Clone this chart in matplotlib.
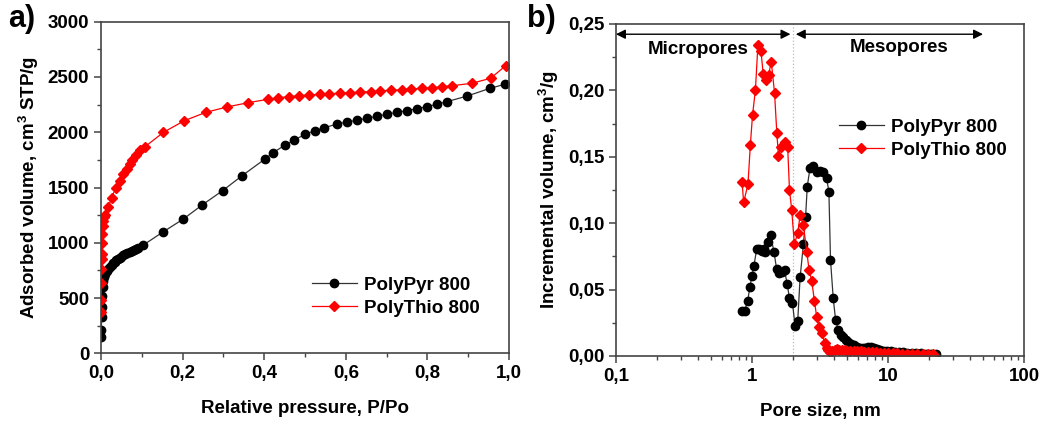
import matplotlib
matplotlib.use("Agg")
import matplotlib.pyplot as plt
from matplotlib.ticker import FuncFormatter, MultipleLocator, LogLocator, NullFormatter

plt.rcParams["font.family"] = ["Liberation Sans", "DejaVu Sans"]
plt.rcParams["font.weight"] = "bold"
plt.rcParams["mathtext.fontset"] = "custom"
plt.rcParams["mathtext.rm"] = "Liberation Sans:bold"
plt.rcParams["mathtext.bf"] = "Liberation Sans:bold"

# ---- a) N2 isotherms ----
pyr_p = [0.0005, 0.001, 0.0015, 0.002, 0.003, 0.004, 0.005, 0.007, 0.01, 0.014,
         0.018, 0.022, 0.026, 0.030, 0.034, 0.038, 0.042, 0.046, 0.050, 0.055,
         0.060, 0.065, 0.070, 0.075, 0.080, 0.085, 0.090, 0.104, 0.153, 0.202,
         0.248, 0.298, 0.346, 0.402, 0.422, 0.451, 0.474, 0.500, 0.525, 0.547,
         0.579, 0.602, 0.627, 0.651, 0.676, 0.700, 0.725, 0.749, 0.774, 0.798,
         0.823, 0.847, 0.898, 0.953, 0.990]
pyr_v = [150, 210, 330, 420, 520, 600, 650, 690, 720, 745,
         765, 785, 800, 815, 830, 845, 855, 865, 875, 885,
         895, 905, 915, 925, 935, 945, 955, 980, 1100, 1215,
         1342, 1471, 1607, 1758, 1815, 1884, 1930, 1981, 2014, 2041,
         2074, 2093, 2108, 2126, 2144, 2162, 2180, 2195, 2213, 2231,
         2253, 2276, 2328, 2397, 2434]

thio_p = [0.0003, 0.0006, 0.001, 0.0013, 0.0016, 0.002, 0.0025, 0.003, 0.004, 0.005,
          0.007, 0.0098, 0.018, 0.026, 0.036, 0.0466, 0.0547, 0.063, 0.071, 0.077,
          0.085, 0.0956, 0.108, 0.153, 0.204, 0.257, 0.308, 0.360, 0.409, 0.435,
          0.461, 0.486, 0.511, 0.537, 0.560, 0.586, 0.610, 0.636, 0.661, 0.685,
          0.710, 0.737, 0.759, 0.786, 0.811, 0.835, 0.861, 0.909, 0.955, 0.992]
thio_v = [370, 480, 640, 760, 850, 900, 1000, 1080, 1150, 1200,
          1230, 1251, 1321, 1408, 1493, 1559, 1620, 1667, 1710, 1749,
          1794, 1839, 1869, 1999, 2104, 2180, 2228, 2267, 2298, 2313,
          2322, 2330, 2337, 2343, 2349, 2352, 2358, 2364, 2367, 2373,
          2379, 2385, 2391, 2397, 2403, 2412, 2421, 2443, 2488, 2602]

# ---- b) pore size distributions ----
pyr_d = [0.845, 0.885, 0.930, 0.967, 1.0, 1.034, 1.082, 1.133, 1.183, 1.224,
         1.25, 1.31, 1.37, 1.45, 1.52, 1.585, 1.66, 1.735, 1.815, 1.888,
         1.985, 2.075, 2.17, 2.26, 2.39, 2.48, 2.55, 2.67, 2.83, 2.99,
         3.16, 3.35, 3.54, 3.68, 3.78, 3.96, 4.12, 4.31, 4.51, 4.7,
         4.9, 5.1, 5.35, 5.6, 5.9, 6.2, 6.5, 6.8, 7.1, 7.5,
         7.9, 8.3, 8.8, 9.3, 9.9, 10.5, 11.2, 12.0, 12.9, 13.9,
         15.0, 16.2, 17.6, 19.0, 20.7, 22.5]
pyr_inc = [0.0341, 0.0341, 0.0417, 0.0522, 0.0605, 0.0678, 0.0803, 0.0803, 0.079, 0.0803,
           0.0786, 0.086, 0.0911, 0.0786, 0.0653, 0.0623, 0.0635, 0.0648, 0.0542, 0.0434,
           0.0401, 0.0226, 0.0264, 0.0593, 0.0841, 0.105, 0.1275, 0.1413, 0.143, 0.1388,
           0.1396, 0.1388, 0.1338, 0.1237, 0.0723, 0.0434, 0.0271, 0.0196, 0.0158, 0.014,
           0.012, 0.0105, 0.0092, 0.008, 0.007, 0.0063, 0.006, 0.006, 0.0065, 0.0068,
           0.0062, 0.0053, 0.0045, 0.004, 0.0037, 0.0034, 0.0032, 0.003, 0.0028, 0.0026,
           0.0024, 0.0022, 0.002, 0.0018, 0.0016, 0.0015]

thio_d = [0.845, 0.869, 0.935, 0.973, 1.01, 1.06, 1.106, 1.164, 1.21, 1.265,
          1.325, 1.387, 1.466, 1.524, 1.567, 1.64, 1.735, 1.83, 1.888, 1.96,
          2.05, 2.17, 2.26, 2.39, 2.53, 2.63, 2.75, 2.88, 2.99, 3.11,
          3.25, 3.44, 3.55, 3.64, 3.75, 3.9, 4.05, 4.2, 4.4, 4.6,
          4.8, 5.0, 5.3, 5.6, 5.9, 6.3, 6.7, 7.1, 7.6, 8.1,
          8.7, 9.3, 10.0, 10.8, 11.7, 12.7, 13.8, 15.0, 16.4, 18.0,
          19.8, 21.5]
thio_inc = [0.1313, 0.1157, 0.1295, 0.159, 0.1815, 0.2003, 0.234, 0.2299, 0.2123, 0.2078,
            0.2116, 0.2216, 0.198, 0.1677, 0.1506, 0.1576, 0.1614, 0.1576, 0.125, 0.110,
            0.0843, 0.0924, 0.1062, 0.0986, 0.0785, 0.0648, 0.0567, 0.0414, 0.0296, 0.0221,
            0.0171, 0.0096, 0.006, 0.0045, 0.003, 0.0035, 0.0045, 0.005, 0.0048, 0.0045,
            0.0042, 0.004, 0.0038, 0.0036, 0.0035, 0.0034, 0.0033, 0.0032, 0.003, 0.0028,
            0.0026, 0.0024, 0.0022, 0.002, 0.0019, 0.0018, 0.0017, 0.0016, 0.0015, 0.0014,
            0.0013, 0.0012]

LABELS = ["PolyPyr 800", "PolyThio 800"]
MICRO_MESO = 2.0  # nm
ARROW_Y = 0.2423
ARROW_RIGHT = 50.0


def comma(fmt):
    return FuncFormatter(lambda v, _: fmt.format(v).replace(".", ","))


def style(ax):
    for s in ax.spines.values():
        s.set_linewidth(1.2)
        s.set_color("#444444")
    ax.tick_params(which="both", direction="out", top=False, right=False,
                   labelsize=13.5, colors="#444444", labelcolor="black")
    ax.tick_params(which="major", length=5, width=1.1)
    ax.tick_params(which="minor", length=3, width=1.0)


fig = plt.figure(figsize=(10.44, 4.21), dpi=100)
axa = fig.add_axes([0.0967, 0.1608, 0.3908, 0.7876])
axb = fig.add_axes([0.590, 0.1544, 0.3908, 0.7886])

axa.plot(pyr_p, pyr_v, "-o", color="#333333", mfc="black", mec="black",
         label=LABELS[0], markersize=6, linewidth=0.9)
axa.plot(thio_p, thio_v, "-D", color="#ff0000", mfc="#ff0000", mec="#ff0000",
         label=LABELS[1], markersize=5.5, linewidth=0.9)
axa.set_xlim(0, 1.0)
axa.set_ylim(0, 3000)
axa.xaxis.set_major_locator(MultipleLocator(0.2))
axa.xaxis.set_minor_locator(MultipleLocator(0.1))
axa.yaxis.set_major_locator(MultipleLocator(500))
axa.yaxis.set_minor_locator(MultipleLocator(250))
axa.xaxis.set_major_formatter(comma("{:.1f}"))
style(axa)
axa.set_xlabel("Relative pressure, P/Po", fontsize=13.5, fontweight="bold", labelpad=13)
axa.set_ylabel(r"Adsorbed volume, cm$^\mathrm{3}$ STP/g", fontsize=13.5,
               fontweight="bold", labelpad=5)
axa.legend(loc="lower right", bbox_to_anchor=(0.97, 0.06), frameon=False,
           fontsize=13.5, handlelength=2.4, handletextpad=0.4, labelspacing=0.3)
fig.text(0.008, 0.955, "a)", fontsize=22, fontweight="bold", va="center")

axb.plot(pyr_d, pyr_inc, "-o", color="#333333", mfc="black", mec="black",
         label=LABELS[0], markersize=6, linewidth=0.9)
axb.plot(thio_d, thio_inc, "-D", color="#ff0000", mfc="#ff0000", mec="#ff0000",
         label=LABELS[1], markersize=5.5, linewidth=0.9)
axb.set_xscale("log")
axb.set_xlim(0.1, 100)
axb.set_ylim(0, 0.25)
axb.xaxis.set_major_locator(LogLocator(base=10))
axb.xaxis.set_minor_locator(LogLocator(base=10, subs=range(2, 10)))
axb.xaxis.set_minor_formatter(NullFormatter())
axb.xaxis.set_major_formatter(FuncFormatter(
    lambda v, _: ("{:g}".format(v)).replace(".", ",")))
axb.yaxis.set_major_locator(MultipleLocator(0.05))
axb.yaxis.set_minor_locator(MultipleLocator(0.025))
axb.yaxis.set_major_formatter(comma("{:.2f}"))
style(axb)
axb.axvline(MICRO_MESO, color="#bbbbbb", linestyle=":", linewidth=0.9, zorder=0)
arrow = dict(arrowstyle="<|-|>", color="black", lw=1.0, mutation_scale=14,
             shrinkA=0, shrinkB=0)
axb.annotate("", xy=(0.1, ARROW_Y), xytext=(MICRO_MESO * 0.96, ARROW_Y),
             arrowprops=arrow)
axb.annotate("", xy=(MICRO_MESO * 1.05, ARROW_Y), xytext=(ARROW_RIGHT, ARROW_Y),
             arrowprops=arrow)
axb.text(0.40, 0.231, "Micropores", fontsize=13.5, fontweight="bold",
         ha="center", va="center")
axb.text(12.0, 0.232, "Mesopores", fontsize=13.5, fontweight="bold",
         ha="center", va="center")
axb.set_xlabel("Pore size, nm", fontsize=13.5, fontweight="bold", labelpad=13)
axb.set_ylabel(r"Incremental volume, cm$^\mathrm{3}$/g", fontsize=13.5,
               fontweight="bold", labelpad=5)
axb.legend(loc="upper right", bbox_to_anchor=(1.0, 0.765), frameon=False,
           fontsize=13.5, handlelength=2.4, handletextpad=0.4, labelspacing=0.3)
fig.text(0.505, 0.955, "b)", fontsize=22, fontweight="bold", va="center")

fig.savefig("out.png", dpi=100)
